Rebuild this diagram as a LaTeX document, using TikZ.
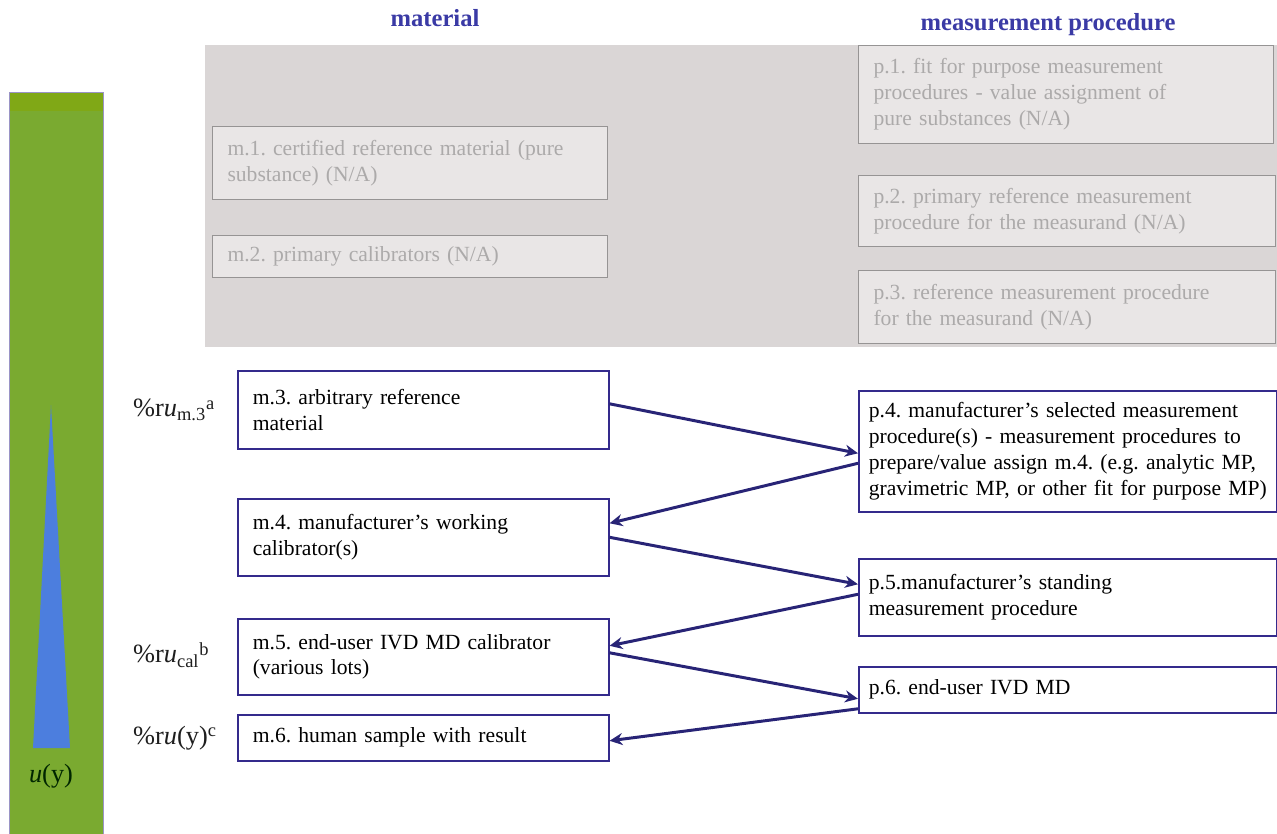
\documentclass[tikz,border=0pt]{standalone}
\usepackage{fontspec}
\setmainfont{Liberation Serif}
\frenchspacing
\usetikzlibrary{arrows.meta}
\definecolor{boxblue}{RGB}{52,42,140}
\definecolor{arrowblue}{RGB}{40,36,118}
\definecolor{headblue}{RGB}{58,58,165}
\definecolor{bargreen}{RGB}{122,170,48}
\definecolor{bartop}{RGB}{128,168,22}
\definecolor{wedgeblue}{RGB}{76,126,222}
\definecolor{nagray}{RGB}{218,214,214}
\definecolor{fadetext}{RGB}{172,170,170}
\definecolor{fadeline}{RGB}{150,148,148}
\definecolor{labeltext}{RGB}{30,30,30}
\tikzset{
  boxfont/.style={font=\fontsize{12.3}{14.7}\selectfont},
  mbox/.style={boxfont, draw=boxblue, line width=0.9pt, fill=white,
    anchor=north west, align=left, inner xsep=0.3cm},
  gbox/.style={boxfont, draw=fadeline, line width=0.6pt, fill=nagray!60!white,
    text=fadetext, anchor=north west, align=left, inner xsep=0.3cm},
  head/.style={font=\fontsize{14}{16}\selectfont\bfseries, text=headblue},
  unc/.style={font=\fontsize{15}{17}\selectfont, text=labeltext, anchor=west},
  link/.style={draw=arrowblue, line width=1.7pt,
    -{Stealth[length=2.6mm,width=2.4mm]}}
}
\begin{document}
\begin{tikzpicture}[x=0.02cm, y=-0.02cm]
\useasboundingbox (0,0) rectangle (1277,834);

% uncertainty bar
\fill[bargreen] (9,92) rectangle (103,834);
\fill[bartop] (9,92) rectangle (103,111);
\draw[boxblue!50, line width=0.5pt] (9,834) -- (9,92) -- (103,92) -- (103,834);
\fill[wedgeblue] (51,405) -- (70,748) -- (33,748) -- cycle;
\node[font=\fontsize{15}{17}\selectfont, text=black!85!green] (uy) at (51,776) {\textit{u}(y)};

% headings
\node[head] (mat) at (435,18) {material};
\node[head] (proc) at (1048,25) {measurement procedure};

% levels not applicable
\fill[nagray] (205,45) rectangle (1277,347);
\node[gbox, text width=7.3cm, minimum height=1.46cm] (m1) at (212,126)
  {m.1. certified reference material (pure\\substance) (N/A)};
\node[gbox, text width=7.3cm, minimum height=0.84cm] (m2) at (212,235)
  {m.2. primary calibrators (N/A)};
\node[gbox, text width=7.7cm, minimum height=1.96cm] (p1) at (858,45)
  {p.1. fit for purpose measurement\\procedures - value assignment of\\pure substances (N/A)};
\node[gbox, text width=7.74cm, minimum height=1.42cm] (p2) at (858,175)
  {p.2. primary reference measurement\\procedure for the measurand (N/A)};
\node[gbox, text width=7.74cm, minimum height=1.46cm] (p3) at (858,270)
  {p.3. reference measurement procedure\\for the measurand (N/A)};

% material side
\node[mbox, text width=6.82cm, minimum height=1.56cm] (m3) at (237,370)
  {m.3. arbitrary reference\\material};
\node[mbox, text width=6.82cm, minimum height=1.54cm] (m4) at (237,498)
  {m.4. manufacturer’s working\\calibrator(s)};
\node[mbox, text width=6.82cm, minimum height=1.52cm] (m5) at (237,618)
  {m.5. end-user IVD MD calibrator\\(various lots)};
\node[mbox, text width=6.82cm, minimum height=0.92cm] (m6) at (237,714)
  {m.6. human sample with result};

% procedure side
\node[mbox, text width=7.96cm, inner xsep=0.2cm, minimum height=2.42cm] (p4) at (858,390)
  {p.4. manufacturer’s selected measurement\\procedure(s) - measurement procedures to\\prepare/value assign m.4. (e.g. analytic MP,\\gravimetric MP, or other fit for purpose MP)};
\node[mbox, text width=7.96cm, inner xsep=0.2cm, minimum height=1.54cm] (p5) at (858,558)
  {p.5.manufacturer’s standing\\measurement procedure};
\node[mbox, text width=7.96cm, inner xsep=0.2cm, minimum height=0.92cm] (p6) at (858,666)
  {p.6. end-user IVD MD};

% relative uncertainties
\node[unc] (um3) at (127,410) {\%r\textit{u}\textsubscript{m.3}\raisebox{-0.15ex}{\textsuperscript{a}}};
\node[unc] (ucal) at (127,655) {\%r\textit{u}\textsubscript{cal}\raisebox{-0.15ex}{\textsuperscript{b}}};
\node[unc] (uyc) at (127,738) {\%r\textit{u}(y)\raisebox{-0.15ex}{\textsuperscript{c}}};

% traceability chain
\draw[link] ([yshift=0.12cm]m3.east) -- ([yshift=-0.04cm]p4.west);
\draw[link] ([yshift=-0.24cm]p4.west) -- ([yshift=0.28cm]m4.east);
\draw[link] (m4.east) -- ([yshift=0.26cm]p5.west);
\draw[link] ([yshift=0.06cm]p5.west) -- ([yshift=0.22cm]m5.east);
\draw[link] ([yshift=0.08cm]m5.east) -- ([yshift=-0.18cm]p6.west);
\draw[link] ([yshift=-0.38cm]p6.west) -- ([yshift=-0.06cm]m6.east);
\end{tikzpicture}
\end{document}
